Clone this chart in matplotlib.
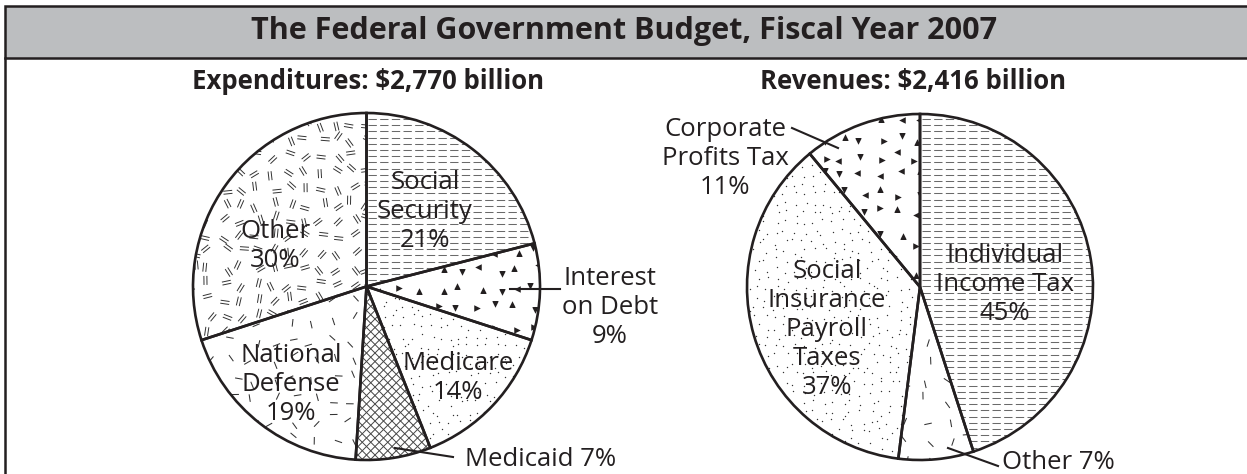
import numpy as np
import matplotlib.pyplot as plt
import matplotlib.patches as mpatches
from matplotlib.collections import LineCollection

plt.rcParams['font.family'] = ['Open Sans', 'DejaVu Sans']
plt.rcParams['lines.scale_dashes'] = False

W, H = 1247, 474
INK = '#231f20'
PITCH = 29  # px between label lines

title = "The Federal Government Budget, Fiscal Year 2007"

exp_title = "Expenditures: $2,770 billion"
exp_labels = ["Social\nSecurity\n21%", "Interest\non Debt\n9%", "Medicare\n14%",
              "Medicaid 7%", "National\nDefense\n19%", "Other\n30%"]
exp_values = [21, 9, 14, 7, 19, 30]
exp_fills = ['dash', 'tri', 'dot', 'cross', 'tick', 'double']

rev_title = "Revenues: $2,416 billion"
rev_labels = ["Individual\nIncome Tax\n45%", "Other 7%",
              "Social\nInsurance\nPayroll\nTaxes\n37%", "Corporate\nProfits Tax\n11%"]
rev_values = [45, 7, 37, 11]
rev_fills = ['dash', 'tick', 'dot', 'tri']

# label anchors in pixels from top-left: x, first baseline, alignment, leader line
exp_label_pos = [(425, 189, 'center', None),
                 (610, 285, 'center', ((510, 289), (560, 289))),
                 (458, 370, 'center', None),
                 (465, 466, 'left', ((395, 448), (453, 457))),
                 (291, 362, 'center', None),
                 (275, 238, 'center', None)]
rev_label_pos = [(1005, 262, 'center', None),
                 (1002, 469, 'left', ((948, 448), (998, 466))),
                 (827, 278, 'center', None),
                 (725, 136, 'center', ((792, 128), (838, 148)))]


def noise(a, b, k=0.0):
    v = np.sin(a * 12.9898 + b * 78.233 + k * 37.719) * 43758.5453
    return v - np.floor(v)


def lattice(cx, cy, r, step, jit, k):
    xs = np.arange(cx - r, cx + r + step, step)
    ys = np.arange(cy - r, cy + r + step, step)
    gx, gy = np.meshgrid(xs, ys)
    gx, gy = gx.ravel(), gy.ravel()
    i = np.arange(gx.size) + 1.0
    px = gx + (noise(i, 1.3, k) - 0.5) * 2 * jit
    py = gy + (noise(i, 7.1, k) - 0.5) * 2 * jit
    return px, py, i


def add_texture(ax, wedge, kind, k):
    cx, cy = wedge.center
    r = wedge.r
    arts = []
    if kind == 'dash':
        ys = np.arange(cy - r, cy + r, 6.2)
        segs = [[(cx - r, y), (cx + r, y)] for y in ys]
        arts.append(LineCollection(segs, colors='#6a6a6a', linewidths=0.75,
                                   linestyles=[(0, (6.0, 2.4))]))
    elif kind == 'cross':
        step = 8.5
        segs = []
        for c in np.arange(-2 * r, 2 * r, step):
            segs.append([(cx - r, cy - r + c), (cx + r, cy + r + c)])
            segs.append([(cx - r, cy + r + c), (cx + r, cy - r + c)])
        arts.append(LineCollection(segs, colors='#444444', linewidths=0.7))
    elif kind == 'tick':
        px, py, i = lattice(cx, cy, r, 20, 6, k)
        ang = noise(i, 3.7, k) * np.pi
        L = 3.8
        segs = [[(x - L * np.cos(a), y - L * np.sin(a)), (x + L * np.cos(a), y + L * np.sin(a))]
                for x, y, a in zip(px, py, ang)]
        arts.append(LineCollection(segs, colors='#333333', linewidths=0.75))
    elif kind == 'double':
        px, py, i = lattice(cx, cy, r, 16, 4.5, k)
        ang = noise(i, 3.7, k) * np.pi
        L, g = 4.5, 1.5
        segs = []
        for x, y, a in zip(px, py, ang):
            dx, dy = L * np.cos(a), L * np.sin(a)
            nx, ny = -g * np.sin(a), g * np.cos(a)
            for s in (-1, 1):
                segs.append([(x - dx + s * nx, y - dy + s * ny), (x + dx + s * nx, y + dy + s * ny)])
        arts.append(LineCollection(segs, colors='#333333', linewidths=0.7))
    elif kind == 'dot':
        px, py, i = lattice(cx, cy, r, 9.5, 3.5, k)
        arts.append(ax.scatter(px, py, s=1.0, c='#333333', linewidths=0, zorder=2))
    elif kind == 'tri':
        px, py, i = lattice(cx, cy, r, 19, 5, k)
        pick = (noise(i, 5.5, k) * 4).astype(int)
        for m_i, m in enumerate(['^', 'v', '<', '>']):
            sel = pick == m_i
            arts.append(ax.scatter(px[sel], py[sel], s=22, marker=m, c=INK,
                                   linewidths=0, zorder=2))
    for a in arts:
        if isinstance(a, LineCollection):
            a.set_zorder(2)
            ax.add_collection(a)
        a.set_clip_path(wedge)


def draw_pie(ax, values, fills, labels, label_pos, center, radius, k0):
    wedges, _ = ax.pie(values, startangle=90, counterclock=False, center=center,
                       radius=radius, wedgeprops=dict(facecolor='white', edgecolor='none'))
    for n, (w, kind) in enumerate(zip(wedges, fills)):
        w.set_zorder(1)
        add_texture(ax, w, kind, k0 + n)
        ax.add_patch(mpatches.Wedge(w.center, w.r, w.theta1, w.theta2, fill=False,
                                    ec=INK, lw=1.9, zorder=4))
    for text, (x, y, ha, leader) in zip(labels, label_pos):
        for j, line in enumerate(text.split('\n')):
            ax.text(x, H - y - j * PITCH, line, ha=ha, va='baseline', fontsize=18.5,
                    color=INK, zorder=6)
        if leader is not None:
            (x0, y0), (x1, y1) = leader
            ax.plot([x0, x1], [H - y0, H - y1], color=INK, lw=1.5, zorder=5)


fig = plt.figure(figsize=(W / 100, H / 100), dpi=100)
ax = fig.add_axes([0, 0, 1, 1])

# header band and frame
ax.add_patch(mpatches.Rectangle((5.3, H - 57.5), 1400, 51.2, fc='#bcbec0', ec=INK,
                                lw=1.8, zorder=3))
ax.plot([5.3, 5.3], [H - 57.5, -10], color=INK, lw=1.8, zorder=3)
ax.text(624, H - 38.5, title, ha='center', va='baseline', fontsize=22,
        fontweight='bold', color=INK, zorder=6)

ax.text(367.5, H - 88.5, exp_title, ha='center', va='baseline', fontsize=18.5,
        fontweight='bold', color=INK)
ax.text(913.5, H - 88.5, rev_title, ha='center', va='baseline', fontsize=18.5,
        fontweight='bold', color=INK)

draw_pie(ax, exp_values, exp_fills, exp_labels, exp_label_pos, (366.5, H - 286.5), 173.5, 0)
draw_pie(ax, rev_values, rev_fills, rev_labels, rev_label_pos, (920, H - 287), 173, 10)

ax.set_xlim(0, W)
ax.set_ylim(0, H)
ax.set_aspect('auto')
ax.axis('off')

fig.savefig('out.png', dpi=100)
